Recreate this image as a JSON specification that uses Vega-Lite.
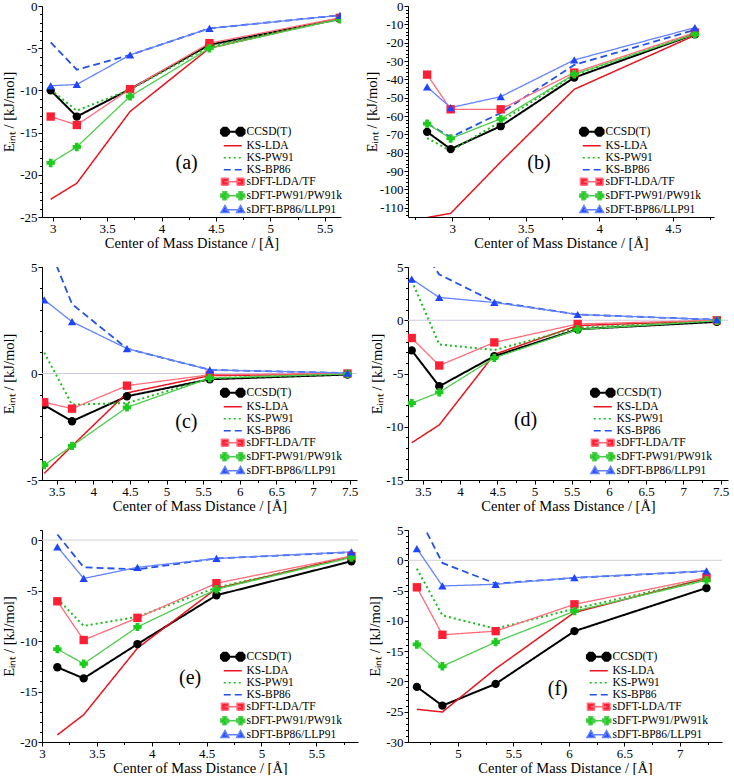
{
  "$schema": "https://vega.github.io/schema/vega-lite/v6.json",
  "padding": {"left": 1, "top": 0, "right": 2, "bottom": 0},
  "background": "white",
  "config": {
    "font": "Liberation Serif",
    "view": {"stroke": null},
    "locale": {"number": {"decimal": ".", "thousands": ",", "grouping": [3], "currency": ["$", ""], "minus": "-"}},
    "axis": {"labelFont": "Liberation Serif", "labelFontSize": 13, "labelColor": "#000", "titleFont": "Liberation Serif", "titleFontSize": 14.5, "titleFontWeight": "normal", "titleColor": "#000", "domainColor": "#000", "tickColor": "#000", "grid": false, "tickSize": 4, "labelPadding": 1, "labelFlush": false, "labelOverlap": false},
    "axisX": {"titlePadding": 1},
    "legend": {"labelFont": "Liberation Serif", "labelFontSize": 11.5, "labelColor": "#000", "symbolSize": 400, "rowPadding": -1, "labelOffset": 8, "padding": 0}
  },
  "datasets": {
    "d": [
      {"panel":"a","method":"CCSD(T)","x":2.98,"y":-10.0},{"panel":"a","method":"CCSD(T)","x":3.22,"y":-13.1},{"panel":"a","method":"CCSD(T)","x":3.71,"y":-9.85},{"panel":"a","method":"CCSD(T)","x":4.44,"y":-4.6},{"panel":"a","method":"CCSD(T)","x":5.64,"y":-1.55},
      {"panel":"a","method":"KS-LDA","x":2.98,"y":-22.9},{"panel":"a","method":"KS-LDA","x":3.22,"y":-21.0},{"panel":"a","method":"KS-LDA","x":3.71,"y":-12.5},{"panel":"a","method":"KS-LDA","x":4.44,"y":-5.0},{"panel":"a","method":"KS-LDA","x":5.64,"y":-1.45},
      {"panel":"a","method":"KS-PW91","x":2.98,"y":-9.9},{"panel":"a","method":"KS-PW91","x":3.22,"y":-12.4},{"panel":"a","method":"KS-PW91","x":3.71,"y":-9.9},{"panel":"a","method":"KS-PW91","x":4.44,"y":-4.8},{"panel":"a","method":"KS-PW91","x":5.64,"y":-1.5},
      {"panel":"a","method":"KS-BP86","x":2.98,"y":-4.3},{"panel":"a","method":"KS-BP86","x":3.22,"y":-7.55},{"panel":"a","method":"KS-BP86","x":3.71,"y":-5.8},{"panel":"a","method":"KS-BP86","x":4.44,"y":-2.65},{"panel":"a","method":"KS-BP86","x":5.64,"y":-1.1},
      {"panel":"a","method":"sDFT-LDA/TF","x":2.98,"y":-13.1},{"panel":"a","method":"sDFT-LDA/TF","x":3.22,"y":-14.1},{"panel":"a","method":"sDFT-LDA/TF","x":3.71,"y":-9.85},{"panel":"a","method":"sDFT-LDA/TF","x":4.44,"y":-4.4},{"panel":"a","method":"sDFT-LDA/TF","x":5.64,"y":-1.4},
      {"panel":"a","method":"sDFT-PW91/PW91k","x":2.98,"y":-18.6},{"panel":"a","method":"sDFT-PW91/PW91k","x":3.22,"y":-16.7},{"panel":"a","method":"sDFT-PW91/PW91k","x":3.71,"y":-10.7},{"panel":"a","method":"sDFT-PW91/PW91k","x":4.44,"y":-5.0},{"panel":"a","method":"sDFT-PW91/PW91k","x":5.64,"y":-1.55},
      {"panel":"a","method":"sDFT-BP86/LLP91","x":2.98,"y":-9.45},{"panel":"a","method":"sDFT-BP86/LLP91","x":3.22,"y":-9.3},{"panel":"a","method":"sDFT-BP86/LLP91","x":3.71,"y":-5.8},{"panel":"a","method":"sDFT-BP86/LLP91","x":4.44,"y":-2.65},{"panel":"a","method":"sDFT-BP86/LLP91","x":5.64,"y":-1.1},

      {"panel":"b","method":"CCSD(T)","x":2.83,"y":-68.6},{"panel":"b","method":"CCSD(T)","x":2.99,"y":-78.0},{"panel":"b","method":"CCSD(T)","x":3.33,"y":-65.5},{"panel":"b","method":"CCSD(T)","x":3.83,"y":-39.0},{"panel":"b","method":"CCSD(T)","x":4.65,"y":-15.4},
      {"panel":"b","method":"KS-LDA","x":2.83,"y":-115.3},{"panel":"b","method":"KS-LDA","x":2.99,"y":-113.0},{"panel":"b","method":"KS-LDA","x":3.33,"y":-85.0},{"panel":"b","method":"KS-LDA","x":3.83,"y":-45.4},{"panel":"b","method":"KS-LDA","x":4.65,"y":-16.0},
      {"panel":"b","method":"KS-PW91","x":2.83,"y":-72.0},{"panel":"b","method":"KS-PW91","x":2.99,"y":-79.0},{"panel":"b","method":"KS-PW91","x":3.33,"y":-63.0},{"panel":"b","method":"KS-PW91","x":3.83,"y":-37.5},{"panel":"b","method":"KS-PW91","x":4.65,"y":-15.0},
      {"panel":"b","method":"KS-BP86","x":2.83,"y":-64.0},{"panel":"b","method":"KS-BP86","x":2.99,"y":-71.5},{"panel":"b","method":"KS-BP86","x":3.33,"y":-58.3},{"panel":"b","method":"KS-BP86","x":3.83,"y":-32.1},{"panel":"b","method":"KS-BP86","x":4.65,"y":-13.0},
      {"panel":"b","method":"sDFT-LDA/TF","x":2.83,"y":-37.4},{"panel":"b","method":"sDFT-LDA/TF","x":2.99,"y":-56.3},{"panel":"b","method":"sDFT-LDA/TF","x":3.33,"y":-56.3},{"panel":"b","method":"sDFT-LDA/TF","x":3.83,"y":-36.3},{"panel":"b","method":"sDFT-LDA/TF","x":4.65,"y":-14.5},
      {"panel":"b","method":"sDFT-PW91/PW91k","x":2.83,"y":-64.1},{"panel":"b","method":"sDFT-PW91/PW91k","x":2.99,"y":-72.2},{"panel":"b","method":"sDFT-PW91/PW91k","x":3.33,"y":-61.5},{"panel":"b","method":"sDFT-PW91/PW91k","x":3.83,"y":-37.2},{"panel":"b","method":"sDFT-PW91/PW91k","x":4.65,"y":-15.4},
      {"panel":"b","method":"sDFT-BP86/LLP91","x":2.83,"y":-44.1},{"panel":"b","method":"sDFT-BP86/LLP91","x":2.99,"y":-55.4},{"panel":"b","method":"sDFT-BP86/LLP91","x":3.33,"y":-49.4},{"panel":"b","method":"sDFT-BP86/LLP91","x":3.83,"y":-29.4},{"panel":"b","method":"sDFT-BP86/LLP91","x":4.65,"y":-11.8},

      {"panel":"c","method":"CCSD(T)","x":3.33,"y":-1.48},{"panel":"c","method":"CCSD(T)","x":3.71,"y":-2.24},{"panel":"c","method":"CCSD(T)","x":4.46,"y":-1.07},{"panel":"c","method":"CCSD(T)","x":5.59,"y":-0.27},{"panel":"c","method":"CCSD(T)","x":7.47,"y":-0.05},
      {"panel":"c","method":"KS-LDA","x":3.33,"y":-4.69},{"panel":"c","method":"KS-LDA","x":3.71,"y":-3.4},{"panel":"c","method":"KS-LDA","x":4.46,"y":-0.91},{"panel":"c","method":"KS-LDA","x":5.59,"y":-0.1},{"panel":"c","method":"KS-LDA","x":7.47,"y":-0.02},
      {"panel":"c","method":"KS-PW91","x":3.33,"y":0.98},{"panel":"c","method":"KS-PW91","x":3.71,"y":-1.46},{"panel":"c","method":"KS-PW91","x":4.46,"y":-1.39},{"panel":"c","method":"KS-PW91","x":5.59,"y":-0.22},{"panel":"c","method":"KS-PW91","x":7.47,"y":-0.02},
      {"panel":"c","method":"KS-BP86","x":3.33,"y":6.5},{"panel":"c","method":"KS-BP86","x":3.71,"y":3.26},{"panel":"c","method":"KS-BP86","x":4.46,"y":1.17},{"panel":"c","method":"KS-BP86","x":5.59,"y":0.17},{"panel":"c","method":"KS-BP86","x":7.47,"y":0.02},
      {"panel":"c","method":"sDFT-LDA/TF","x":3.33,"y":-1.35},{"panel":"c","method":"sDFT-LDA/TF","x":3.71,"y":-1.65},{"panel":"c","method":"sDFT-LDA/TF","x":4.46,"y":-0.57},{"panel":"c","method":"sDFT-LDA/TF","x":5.59,"y":-0.06},{"panel":"c","method":"sDFT-LDA/TF","x":7.47,"y":0.0},
      {"panel":"c","method":"sDFT-PW91/PW91k","x":3.33,"y":-4.3},{"panel":"c","method":"sDFT-PW91/PW91k","x":3.71,"y":-3.4},{"panel":"c","method":"sDFT-PW91/PW91k","x":4.46,"y":-1.59},{"panel":"c","method":"sDFT-PW91/PW91k","x":5.59,"y":-0.22},{"panel":"c","method":"sDFT-PW91/PW91k","x":7.47,"y":-0.02},
      {"panel":"c","method":"sDFT-BP86/LLP91","x":3.33,"y":3.46},{"panel":"c","method":"sDFT-BP86/LLP91","x":3.71,"y":2.43},{"panel":"c","method":"sDFT-BP86/LLP91","x":4.46,"y":1.17},{"panel":"c","method":"sDFT-BP86/LLP91","x":5.59,"y":0.17},{"panel":"c","method":"sDFT-BP86/LLP91","x":7.47,"y":0.02},

      {"panel":"d","method":"CCSD(T)","x":3.35,"y":-2.83},{"panel":"d","method":"CCSD(T)","x":3.72,"y":-6.2},{"panel":"d","method":"CCSD(T)","x":4.46,"y":-3.37},{"panel":"d","method":"CCSD(T)","x":5.58,"y":-0.85},{"panel":"d","method":"CCSD(T)","x":7.45,"y":-0.15},
      {"panel":"d","method":"KS-LDA","x":3.35,"y":-11.5},{"panel":"d","method":"KS-LDA","x":3.72,"y":-9.83},{"panel":"d","method":"KS-LDA","x":4.46,"y":-3.2},{"panel":"d","method":"KS-LDA","x":5.58,"y":-0.5},{"panel":"d","method":"KS-LDA","x":7.45,"y":-0.05},
      {"panel":"d","method":"KS-PW91","x":3.35,"y":3.7},{"panel":"d","method":"KS-PW91","x":3.72,"y":-2.27},{"panel":"d","method":"KS-PW91","x":4.46,"y":-2.8},{"panel":"d","method":"KS-PW91","x":5.58,"y":-0.7},{"panel":"d","method":"KS-PW91","x":7.45,"y":-0.05},
      {"panel":"d","method":"KS-BP86","x":3.35,"y":8.0},{"panel":"d","method":"KS-BP86","x":3.72,"y":4.3},{"panel":"d","method":"KS-BP86","x":4.46,"y":1.73},{"panel":"d","method":"KS-BP86","x":5.58,"y":0.54},{"panel":"d","method":"KS-BP86","x":7.45,"y":0.05},
      {"panel":"d","method":"sDFT-LDA/TF","x":3.35,"y":-1.67},{"panel":"d","method":"sDFT-LDA/TF","x":3.72,"y":-4.25},{"panel":"d","method":"sDFT-LDA/TF","x":4.46,"y":-2.08},{"panel":"d","method":"sDFT-LDA/TF","x":5.58,"y":-0.35},{"panel":"d","method":"sDFT-LDA/TF","x":7.45,"y":0.0},
      {"panel":"d","method":"sDFT-PW91/PW91k","x":3.35,"y":-7.78},{"panel":"d","method":"sDFT-PW91/PW91k","x":3.72,"y":-6.77},{"panel":"d","method":"sDFT-PW91/PW91k","x":4.46,"y":-3.53},{"panel":"d","method":"sDFT-PW91/PW91k","x":5.58,"y":-0.87},{"panel":"d","method":"sDFT-PW91/PW91k","x":7.45,"y":-0.05},
      {"panel":"d","method":"sDFT-BP86/LLP91","x":3.35,"y":3.87},{"panel":"d","method":"sDFT-BP86/LLP91","x":3.72,"y":2.14},{"panel":"d","method":"sDFT-BP86/LLP91","x":4.46,"y":1.67},{"panel":"d","method":"sDFT-BP86/LLP91","x":5.58,"y":0.54},{"panel":"d","method":"sDFT-BP86/LLP91","x":7.45,"y":0.05},

      {"panel":"e","method":"CCSD(T)","x":3.14,"y":-12.6},{"panel":"e","method":"CCSD(T)","x":3.38,"y":-13.7},{"panel":"e","method":"CCSD(T)","x":3.87,"y":-10.3},{"panel":"e","method":"CCSD(T)","x":4.59,"y":-5.46},{"panel":"e","method":"CCSD(T)","x":5.82,"y":-2.09},
      {"panel":"e","method":"KS-LDA","x":3.14,"y":-19.3},{"panel":"e","method":"KS-LDA","x":3.38,"y":-17.3},{"panel":"e","method":"KS-LDA","x":3.87,"y":-10.7},{"panel":"e","method":"KS-LDA","x":4.59,"y":-4.8},{"panel":"e","method":"KS-LDA","x":5.82,"y":-1.6},
      {"panel":"e","method":"KS-PW91","x":3.14,"y":-5.8},{"panel":"e","method":"KS-PW91","x":3.38,"y":-8.5},{"panel":"e","method":"KS-PW91","x":3.87,"y":-7.6},{"panel":"e","method":"KS-PW91","x":4.59,"y":-4.7},{"panel":"e","method":"KS-PW91","x":5.82,"y":-1.7},
      {"panel":"e","method":"KS-BP86","x":3.14,"y":0.56},{"panel":"e","method":"KS-BP86","x":3.38,"y":-2.7},{"panel":"e","method":"KS-BP86","x":3.87,"y":-2.9},{"panel":"e","method":"KS-BP86","x":4.59,"y":-1.82},{"panel":"e","method":"KS-BP86","x":5.82,"y":-1.2},
      {"panel":"e","method":"sDFT-LDA/TF","x":3.14,"y":-6.06},{"panel":"e","method":"sDFT-LDA/TF","x":3.38,"y":-9.9},{"panel":"e","method":"sDFT-LDA/TF","x":3.87,"y":-7.7},{"panel":"e","method":"sDFT-LDA/TF","x":4.59,"y":-4.27},{"panel":"e","method":"sDFT-LDA/TF","x":5.82,"y":-1.59},
      {"panel":"e","method":"sDFT-PW91/PW91k","x":3.14,"y":-10.8},{"panel":"e","method":"sDFT-PW91/PW91k","x":3.38,"y":-12.25},{"panel":"e","method":"sDFT-PW91/PW91k","x":3.87,"y":-8.6},{"panel":"e","method":"sDFT-PW91/PW91k","x":4.59,"y":-4.87},{"panel":"e","method":"sDFT-PW91/PW91k","x":5.82,"y":-1.72},
      {"panel":"e","method":"sDFT-BP86/LLP91","x":3.14,"y":-0.66},{"panel":"e","method":"sDFT-BP86/LLP91","x":3.38,"y":-3.8},{"panel":"e","method":"sDFT-BP86/LLP91","x":3.87,"y":-2.7},{"panel":"e","method":"sDFT-BP86/LLP91","x":4.59,"y":-1.82},{"panel":"e","method":"sDFT-BP86/LLP91","x":5.82,"y":-1.16},

      {"panel":"f","method":"CCSD(T)","x":4.63,"y":-20.9},{"panel":"f","method":"CCSD(T)","x":4.86,"y":-24.0},{"panel":"f","method":"CCSD(T)","x":5.34,"y":-20.4},{"panel":"f","method":"CCSD(T)","x":6.05,"y":-11.7},{"panel":"f","method":"CCSD(T)","x":7.24,"y":-4.57},
      {"panel":"f","method":"KS-LDA","x":4.63,"y":-24.6},{"panel":"f","method":"KS-LDA","x":4.86,"y":-25.05},{"panel":"f","method":"KS-LDA","x":5.34,"y":-17.9},{"panel":"f","method":"KS-LDA","x":6.05,"y":-8.6},{"panel":"f","method":"KS-LDA","x":7.24,"y":-3.0},
      {"panel":"f","method":"KS-PW91","x":4.63,"y":-1.38},{"panel":"f","method":"KS-PW91","x":4.86,"y":-9.1},{"panel":"f","method":"KS-PW91","x":5.34,"y":-11.3},{"panel":"f","method":"KS-PW91","x":6.05,"y":-8.0},{"panel":"f","method":"KS-PW91","x":7.24,"y":-3.1},
      {"panel":"f","method":"KS-BP86","x":4.63,"y":7.8},{"panel":"f","method":"KS-BP86","x":4.86,"y":-0.44},{"panel":"f","method":"KS-BP86","x":5.34,"y":-3.85},{"panel":"f","method":"KS-BP86","x":6.05,"y":-2.9},{"panel":"f","method":"KS-BP86","x":7.24,"y":-1.8},
      {"panel":"f","method":"sDFT-LDA/TF","x":4.63,"y":-4.46},{"panel":"f","method":"sDFT-LDA/TF","x":4.86,"y":-12.3},{"panel":"f","method":"sDFT-LDA/TF","x":5.34,"y":-11.7},{"panel":"f","method":"sDFT-LDA/TF","x":6.05,"y":-7.27},{"panel":"f","method":"sDFT-LDA/TF","x":7.24,"y":-2.86},
      {"panel":"f","method":"sDFT-PW91/PW91k","x":4.63,"y":-13.9},{"panel":"f","method":"sDFT-PW91/PW91k","x":4.86,"y":-17.5},{"panel":"f","method":"sDFT-PW91/PW91k","x":5.34,"y":-13.5},{"panel":"f","method":"sDFT-PW91/PW91k","x":6.05,"y":-8.4},{"panel":"f","method":"sDFT-PW91/PW91k","x":7.24,"y":-3.3},
      {"panel":"f","method":"sDFT-BP86/LLP91","x":4.63,"y":1.93},{"panel":"f","method":"sDFT-BP86/LLP91","x":4.86,"y":-4.24},{"panel":"f","method":"sDFT-BP86/LLP91","x":5.34,"y":-3.96},{"panel":"f","method":"sDFT-BP86/LLP91","x":6.05,"y":-2.86},{"panel":"f","method":"sDFT-BP86/LLP91","x":7.24,"y":-1.76}
    ]
  },
  "columns": 2,
  "spacing": {"row": 50, "column": 50},
  "bounds": "flush",
  "align": "none",
  "resolve": {"scale": {"stroke": "independent"}, "legend": {"stroke": "independent"}},
  "concat": [
    {
      "width": 299, "height": 211,
      "data": {"name": "d"},
      "transform": [{"filter": "datum.panel === 'a'"}],
      "resolve": {"axis": {"x": "independent", "y": "independent"}},
      "layer": [
        {
          "mark": {"type": "line", "clip": true},
          "encoding": {
            "x": {"field": "x", "type": "quantitative", "scale": {"domain": [2.9, 5.65], "nice": false, "zero": false}, "axis": {"orient": "bottom", "values": [3, 3.5, 4, 4.5, 5, 5.5], "format": ".1~f", "title": "Center of Mass Distance / [Å]"}},
            "y": {"field": "y", "type": "quantitative", "scale": {"domain": [-25, 0], "nice": false, "zero": false}, "axis": {"orient": "left", "values": [-25, -20, -15, -10, -5, 0], "format": "d", "title": "Eᵢₙₜ / [kJ/mol]", "titleX": -26}},
            "stroke": {"field": "method", "type": "nominal", "scale": {"domain": ["CCSD(T)", "KS-LDA", "KS-PW91", "KS-BP86", "sDFT-LDA/TF", "sDFT-PW91/PW91k", "sDFT-BP86/LLP91"], "range": ["#000000", "#e8141e", "#1fba1f", "#2352e6", "#ff6b7a", "#4ccd4c", "#6383ff"]},
              "legend": {"orient": "none", "legendX": 185, "legendY": 120, "title": null, "rowPadding": -1,
                "encode": {"symbols": {"update": {
                  "shape": {"signal": "datum.value === 'CCSD(T)' ? 'M-0.8,0H0.8M-0.94,-0.4L-0.62,-0.4L-0.38,-0.16L-0.38,0.16L-0.62,0.4L-0.94,0.4L-1.18,0.16L-1.18,-0.16ZM0.62,-0.4L0.94,-0.4L1.18,-0.16L1.18,0.16L0.94,0.4L0.62,0.4L0.38,0.16L0.38,-0.16Z' : datum.value === 'sDFT-LDA/TF' ? 'M-0.8,0H0.8M-1.13,-0.35h0.7v0.7h-0.7ZM0.43,-0.35h0.7v0.7h-0.7Z' : datum.value === 'sDFT-PW91/PW91k' ? 'M-0.8,0H0.8M-0.98,-0.4h0.36v0.22h0.22v0.36h-0.22v0.22h-0.36v-0.22h-0.22v-0.36h0.22ZM0.62,-0.4h0.36v0.22h0.22v0.36h-0.22v0.22h-0.36v-0.22h-0.22v-0.36h0.22Z' : datum.value === 'sDFT-BP86/LLP91' ? 'M-0.8,0H0.8M-0.78,-0.42L-0.38,0.28H-1.18ZM0.78,-0.42L1.18,0.28H0.38Z' : 'M-0.9,0H0.9'"},
                  "fill": {"signal": "datum.value === 'CCSD(T)' ? '#000000' : datum.value === 'sDFT-LDA/TF' ? '#ff1f35' : datum.value === 'sDFT-PW91/PW91k' ? '#1ccc1c' : datum.value === 'sDFT-BP86/LLP91' ? '#1f45ff' : 'transparent'"},
                  "strokeDash": {"signal": "datum.value === 'KS-PW91' ? [2,3] : datum.value === 'KS-BP86' ? [7,4] : [1,0]"},
                  "strokeWidth": {"signal": "datum.value === 'CCSD(T)' ? 2 : 1.5"}
                }}}}},
            "strokeDash": {"field": "method", "type": "nominal", "scale": {"domain": ["CCSD(T)", "KS-LDA", "KS-PW91", "KS-BP86", "sDFT-LDA/TF", "sDFT-PW91/PW91k", "sDFT-BP86/LLP91"], "range": [[1, 0], [1, 0], [2, 3], [7, 4], [1, 0], [1, 0], [1, 0]]}, "legend": null},
            "strokeWidth": {"field": "method", "type": "nominal", "scale": {"type": "ordinal", "domain": ["CCSD(T)", "KS-LDA", "KS-PW91", "KS-BP86", "sDFT-LDA/TF", "sDFT-PW91/PW91k", "sDFT-BP86/LLP91"], "range": [2, 1.5, 2, 1.8, 1.3, 1.3, 1.3]}, "legend": null}
          }
        },
        {
          "transform": [{"filter": {"field": "method", "oneOf": ["CCSD(T)", "sDFT-LDA/TF", "sDFT-PW91/PW91k", "sDFT-BP86/LLP91"]}}],
          "mark": {"type": "point", "filled": true, "opacity": 1, "size": 70, "strokeWidth": 0, "clip": true},
          "encoding": {
            "x": {"field": "x", "type": "quantitative", "axis": null},
            "y": {"field": "y", "type": "quantitative", "axis": null},
            "shape": {"field": "method", "type": "nominal", "scale": {"domain": ["CCSD(T)", "sDFT-LDA/TF", "sDFT-PW91/PW91k", "sDFT-BP86/LLP91"], "range": ["circle", "square", "M-0.45,-1h0.9v0.55h0.55v0.9h-0.55v0.55h-0.9v-0.55h-0.55v-0.9h0.55Z", "triangle-up"]}, "legend": null},
            "fill": {"field": "method", "type": "nominal", "scale": {"domain": ["CCSD(T)", "sDFT-LDA/TF", "sDFT-PW91/PW91k", "sDFT-BP86/LLP91"], "range": ["#000000", "#ff1f35", "#1ccc1c", "#1f45ff"]}, "legend": null}
          }
        },
        {
          "data": {"values": [{"label": "(a)"}]},
          "mark": {"type": "text", "font": "Liberation Serif", "fontSize": 20, "color": "#000"},
          "encoding": {
            "text": {"field": "label"},
            "x": {"datum": 4.23, "type": "quantitative", "axis": {"orient": "bottom", "labels": false, "domain": false, "title": null, "tickSize": 2.5, "values": [3.25, 3.75, 4.25, 4.75, 5.25]}},
            "y": {"datum": -18.6, "type": "quantitative", "axis": {"orient": "left", "labels": false, "domain": false, "title": null, "tickSize": 2.5, "values": [-25,-24,-23,-22,-21,-20,-19,-18,-17,-16,-15,-14,-13,-12,-11,-10,-9,-8,-7,-6,-5,-4,-3,-2,-1,0]}}
          }
        }
      ]
    },
    {
      "width": 306, "height": 211,
      "data": {"name": "d"},
      "transform": [{"filter": "datum.panel === 'b'"}],
      "resolve": {"axis": {"x": "independent", "y": "independent"}},
      "layer": [
        {
          "mark": {"type": "line", "clip": true},
          "encoding": {
            "x": {"field": "x", "type": "quantitative", "scale": {"domain": [2.7, 4.78], "nice": false, "zero": false}, "axis": {"orient": "bottom", "values": [3, 3.5, 4, 4.5], "format": ".1~f", "title": "Center of Mass Distance / [Å]"}},
            "y": {"field": "y", "type": "quantitative", "scale": {"domain": [-115, 0], "nice": false, "zero": false}, "axis": {"orient": "left", "values": [-110, -100, -90, -80, -70, -60, -50, -40, -30, -20, -10, 0], "format": "d", "title": "Eᵢₙₜ / [kJ/mol]", "titleX": -29}},
            "stroke": {"field": "method", "type": "nominal", "scale": {"domain": ["CCSD(T)", "KS-LDA", "KS-PW91", "KS-BP86", "sDFT-LDA/TF", "sDFT-PW91/PW91k", "sDFT-BP86/LLP91"], "range": ["#000000", "#e8141e", "#1fba1f", "#2352e6", "#ff6b7a", "#4ccd4c", "#6383ff"]},
              "legend": {"orient": "none", "legendX": 178, "legendY": 120, "title": null, "rowPadding": -1,
                "encode": {"symbols": {"update": {
                  "shape": {"signal": "datum.value === 'CCSD(T)' ? 'M-0.8,0H0.8M-0.94,-0.4L-0.62,-0.4L-0.38,-0.16L-0.38,0.16L-0.62,0.4L-0.94,0.4L-1.18,0.16L-1.18,-0.16ZM0.62,-0.4L0.94,-0.4L1.18,-0.16L1.18,0.16L0.94,0.4L0.62,0.4L0.38,0.16L0.38,-0.16Z' : datum.value === 'sDFT-LDA/TF' ? 'M-0.8,0H0.8M-1.13,-0.35h0.7v0.7h-0.7ZM0.43,-0.35h0.7v0.7h-0.7Z' : datum.value === 'sDFT-PW91/PW91k' ? 'M-0.8,0H0.8M-0.98,-0.4h0.36v0.22h0.22v0.36h-0.22v0.22h-0.36v-0.22h-0.22v-0.36h0.22ZM0.62,-0.4h0.36v0.22h0.22v0.36h-0.22v0.22h-0.36v-0.22h-0.22v-0.36h0.22Z' : datum.value === 'sDFT-BP86/LLP91' ? 'M-0.8,0H0.8M-0.78,-0.42L-0.38,0.28H-1.18ZM0.78,-0.42L1.18,0.28H0.38Z' : 'M-0.9,0H0.9'"},
                  "fill": {"signal": "datum.value === 'CCSD(T)' ? '#000000' : datum.value === 'sDFT-LDA/TF' ? '#ff1f35' : datum.value === 'sDFT-PW91/PW91k' ? '#1ccc1c' : datum.value === 'sDFT-BP86/LLP91' ? '#1f45ff' : 'transparent'"},
                  "strokeDash": {"signal": "datum.value === 'KS-PW91' ? [2,3] : datum.value === 'KS-BP86' ? [7,4] : [1,0]"},
                  "strokeWidth": {"signal": "datum.value === 'CCSD(T)' ? 2 : 1.5"}
                }}}}},
            "strokeDash": {"field": "method", "type": "nominal", "scale": {"domain": ["CCSD(T)", "KS-LDA", "KS-PW91", "KS-BP86", "sDFT-LDA/TF", "sDFT-PW91/PW91k", "sDFT-BP86/LLP91"], "range": [[1, 0], [1, 0], [2, 3], [7, 4], [1, 0], [1, 0], [1, 0]]}, "legend": null},
            "strokeWidth": {"field": "method", "type": "nominal", "scale": {"type": "ordinal", "domain": ["CCSD(T)", "KS-LDA", "KS-PW91", "KS-BP86", "sDFT-LDA/TF", "sDFT-PW91/PW91k", "sDFT-BP86/LLP91"], "range": [2, 1.5, 2, 1.8, 1.3, 1.3, 1.3]}, "legend": null}
          }
        },
        {
          "transform": [{"filter": {"field": "method", "oneOf": ["CCSD(T)", "sDFT-LDA/TF", "sDFT-PW91/PW91k", "sDFT-BP86/LLP91"]}}],
          "mark": {"type": "point", "filled": true, "opacity": 1, "size": 70, "strokeWidth": 0, "clip": true},
          "encoding": {
            "x": {"field": "x", "type": "quantitative", "axis": null},
            "y": {"field": "y", "type": "quantitative", "axis": null},
            "shape": {"field": "method", "type": "nominal", "scale": {"domain": ["CCSD(T)", "sDFT-LDA/TF", "sDFT-PW91/PW91k", "sDFT-BP86/LLP91"], "range": ["circle", "square", "M-0.45,-1h0.9v0.55h0.55v0.9h-0.55v0.55h-0.9v-0.55h-0.55v-0.9h0.55Z", "triangle-up"]}, "legend": null},
            "fill": {"field": "method", "type": "nominal", "scale": {"domain": ["CCSD(T)", "sDFT-LDA/TF", "sDFT-PW91/PW91k", "sDFT-BP86/LLP91"], "range": ["#000000", "#ff1f35", "#1ccc1c", "#1f45ff"]}, "legend": null}
          }
        },
        {
          "data": {"values": [{"label": "(b)"}]},
          "mark": {"type": "text", "font": "Liberation Serif", "fontSize": 20, "color": "#000"},
          "encoding": {
            "text": {"field": "label"},
            "x": {"datum": 3.59, "type": "quantitative", "axis": {"orient": "bottom", "labels": false, "domain": false, "title": null, "tickSize": 2.5, "values": [2.75, 3.25, 3.75, 4.25, 4.75]}},
            "y": {"datum": -85.7, "type": "quantitative", "axis": {"orient": "left", "labels": false, "domain": false, "title": null, "tickSize": 2.5, "values": [-114,-112,-110,-108,-106,-104,-102,-100,-98,-96,-94,-92,-90,-88,-86,-84,-82,-80,-78,-76,-74,-72,-70,-68,-66,-64,-62,-60,-58,-56,-54,-52,-50,-48,-46,-44,-42,-40,-38,-36,-34,-32,-30,-28,-26,-24,-22,-20,-18,-16,-14,-12,-10,-8,-6,-4,-2,0]}}
          }
        }
      ]
    },
    {
      "width": 315, "height": 213,
      "data": {"name": "d"},
      "transform": [{"filter": "datum.panel === 'c'"}],
      "resolve": {"axis": {"x": "independent", "y": "independent"}},
      "layer": [
        {
          "data": {"values": [{}]},
          "mark": {"type": "rule", "color": "#c9cbe3", "strokeWidth": 1},
          "encoding": {"y": {"datum": 0, "type": "quantitative", "axis": null}}
        },
        {
          "mark": {"type": "line", "clip": true},
          "encoding": {
            "x": {"field": "x", "type": "quantitative", "scale": {"domain": [3.3, 7.6], "nice": false, "zero": false}, "axis": {"orient": "bottom", "values": [3.5, 4, 4.5, 5, 5.5, 6, 6.5, 7, 7.5], "format": ".1~f", "title": "Center of Mass Distance / [Å]"}},
            "y": {"field": "y", "type": "quantitative", "scale": {"domain": [-5, 5], "nice": false, "zero": false}, "axis": {"orient": "left", "values": [-5, 0, 5], "format": "d", "title": "Eᵢₙₜ / [kJ/mol]", "titleX": -26}},
            "stroke": {"field": "method", "type": "nominal", "scale": {"domain": ["CCSD(T)", "KS-LDA", "KS-PW91", "KS-BP86", "sDFT-LDA/TF", "sDFT-PW91/PW91k", "sDFT-BP86/LLP91"], "range": ["#000000", "#e8141e", "#1fba1f", "#2352e6", "#ff6b7a", "#4ccd4c", "#6383ff"]},
              "legend": {"orient": "none", "legendX": 185, "legendY": 120, "title": null, "rowPadding": -1,
                "encode": {"symbols": {"update": {
                  "shape": {"signal": "datum.value === 'CCSD(T)' ? 'M-0.8,0H0.8M-0.94,-0.4L-0.62,-0.4L-0.38,-0.16L-0.38,0.16L-0.62,0.4L-0.94,0.4L-1.18,0.16L-1.18,-0.16ZM0.62,-0.4L0.94,-0.4L1.18,-0.16L1.18,0.16L0.94,0.4L0.62,0.4L0.38,0.16L0.38,-0.16Z' : datum.value === 'sDFT-LDA/TF' ? 'M-0.8,0H0.8M-1.13,-0.35h0.7v0.7h-0.7ZM0.43,-0.35h0.7v0.7h-0.7Z' : datum.value === 'sDFT-PW91/PW91k' ? 'M-0.8,0H0.8M-0.98,-0.4h0.36v0.22h0.22v0.36h-0.22v0.22h-0.36v-0.22h-0.22v-0.36h0.22ZM0.62,-0.4h0.36v0.22h0.22v0.36h-0.22v0.22h-0.36v-0.22h-0.22v-0.36h0.22Z' : datum.value === 'sDFT-BP86/LLP91' ? 'M-0.8,0H0.8M-0.78,-0.42L-0.38,0.28H-1.18ZM0.78,-0.42L1.18,0.28H0.38Z' : 'M-0.9,0H0.9'"},
                  "fill": {"signal": "datum.value === 'CCSD(T)' ? '#000000' : datum.value === 'sDFT-LDA/TF' ? '#ff1f35' : datum.value === 'sDFT-PW91/PW91k' ? '#1ccc1c' : datum.value === 'sDFT-BP86/LLP91' ? '#1f45ff' : 'transparent'"},
                  "strokeDash": {"signal": "datum.value === 'KS-PW91' ? [2,3] : datum.value === 'KS-BP86' ? [7,4] : [1,0]"},
                  "strokeWidth": {"signal": "datum.value === 'CCSD(T)' ? 2 : 1.5"}
                }}}}},
            "strokeDash": {"field": "method", "type": "nominal", "scale": {"domain": ["CCSD(T)", "KS-LDA", "KS-PW91", "KS-BP86", "sDFT-LDA/TF", "sDFT-PW91/PW91k", "sDFT-BP86/LLP91"], "range": [[1, 0], [1, 0], [2, 3], [7, 4], [1, 0], [1, 0], [1, 0]]}, "legend": null},
            "strokeWidth": {"field": "method", "type": "nominal", "scale": {"type": "ordinal", "domain": ["CCSD(T)", "KS-LDA", "KS-PW91", "KS-BP86", "sDFT-LDA/TF", "sDFT-PW91/PW91k", "sDFT-BP86/LLP91"], "range": [2, 1.5, 2, 1.8, 1.3, 1.3, 1.3]}, "legend": null}
          }
        },
        {
          "transform": [{"filter": {"field": "method", "oneOf": ["CCSD(T)", "sDFT-LDA/TF", "sDFT-PW91/PW91k", "sDFT-BP86/LLP91"]}}],
          "mark": {"type": "point", "filled": true, "opacity": 1, "size": 70, "strokeWidth": 0, "clip": true},
          "encoding": {
            "x": {"field": "x", "type": "quantitative", "axis": null},
            "y": {"field": "y", "type": "quantitative", "axis": null},
            "shape": {"field": "method", "type": "nominal", "scale": {"domain": ["CCSD(T)", "sDFT-LDA/TF", "sDFT-PW91/PW91k", "sDFT-BP86/LLP91"], "range": ["circle", "square", "M-0.45,-1h0.9v0.55h0.55v0.9h-0.55v0.55h-0.9v-0.55h-0.55v-0.9h0.55Z", "triangle-up"]}, "legend": null},
            "fill": {"field": "method", "type": "nominal", "scale": {"domain": ["CCSD(T)", "sDFT-LDA/TF", "sDFT-PW91/PW91k", "sDFT-BP86/LLP91"], "range": ["#000000", "#ff1f35", "#1ccc1c", "#1f45ff"]}, "legend": null}
          }
        },
        {
          "data": {"values": [{"label": "(c)"}]},
          "mark": {"type": "text", "font": "Liberation Serif", "fontSize": 20, "color": "#000"},
          "encoding": {
            "text": {"field": "label"},
            "x": {"datum": 5.27, "type": "quantitative", "axis": {"orient": "bottom", "labels": false, "domain": false, "title": null, "tickSize": 2.5, "values": [3.75, 4.25, 4.75, 5.25, 5.75, 6.25, 6.75, 7.25]}},
            "y": {"datum": -2.26, "type": "quantitative", "axis": {"orient": "left", "labels": false, "domain": false, "title": null, "tickSize": 2.5, "values": [-5,-4,-3,-2,-1,0,1,2,3,4,5]}}
          }
        }
      ]
    },
    {
      "width": 320, "height": 213,
      "data": {"name": "d"},
      "transform": [{"filter": "datum.panel === 'd'"}],
      "resolve": {"axis": {"x": "independent", "y": "independent"}},
      "layer": [
        {
          "data": {"values": [{}]},
          "mark": {"type": "rule", "color": "#c9cbe3", "strokeWidth": 1},
          "encoding": {"y": {"datum": 0, "type": "quantitative", "axis": null}}
        },
        {
          "mark": {"type": "line", "clip": true},
          "encoding": {
            "x": {"field": "x", "type": "quantitative", "scale": {"domain": [3.3, 7.6], "nice": false, "zero": false}, "axis": {"orient": "bottom", "values": [3.5, 4, 4.5, 5, 5.5, 6, 6.5, 7, 7.5], "format": ".1~f", "title": "Center of Mass Distance / [Å]"}},
            "y": {"field": "y", "type": "quantitative", "scale": {"domain": [-15, 5], "nice": false, "zero": false}, "axis": {"orient": "left", "values": [-15, -10, -5, 0, 5], "format": "d", "title": "Eᵢₙₜ / [kJ/mol]", "titleX": -24}},
            "stroke": {"field": "method", "type": "nominal", "scale": {"domain": ["CCSD(T)", "KS-LDA", "KS-PW91", "KS-BP86", "sDFT-LDA/TF", "sDFT-PW91/PW91k", "sDFT-BP86/LLP91"], "range": ["#000000", "#e8141e", "#1fba1f", "#2352e6", "#ff6b7a", "#4ccd4c", "#6383ff"]},
              "legend": {"orient": "none", "legendX": 189, "legendY": 120, "title": null, "rowPadding": -1,
                "encode": {"symbols": {"update": {
                  "shape": {"signal": "datum.value === 'CCSD(T)' ? 'M-0.8,0H0.8M-0.94,-0.4L-0.62,-0.4L-0.38,-0.16L-0.38,0.16L-0.62,0.4L-0.94,0.4L-1.18,0.16L-1.18,-0.16ZM0.62,-0.4L0.94,-0.4L1.18,-0.16L1.18,0.16L0.94,0.4L0.62,0.4L0.38,0.16L0.38,-0.16Z' : datum.value === 'sDFT-LDA/TF' ? 'M-0.8,0H0.8M-1.13,-0.35h0.7v0.7h-0.7ZM0.43,-0.35h0.7v0.7h-0.7Z' : datum.value === 'sDFT-PW91/PW91k' ? 'M-0.8,0H0.8M-0.98,-0.4h0.36v0.22h0.22v0.36h-0.22v0.22h-0.36v-0.22h-0.22v-0.36h0.22ZM0.62,-0.4h0.36v0.22h0.22v0.36h-0.22v0.22h-0.36v-0.22h-0.22v-0.36h0.22Z' : datum.value === 'sDFT-BP86/LLP91' ? 'M-0.8,0H0.8M-0.78,-0.42L-0.38,0.28H-1.18ZM0.78,-0.42L1.18,0.28H0.38Z' : 'M-0.9,0H0.9'"},
                  "fill": {"signal": "datum.value === 'CCSD(T)' ? '#000000' : datum.value === 'sDFT-LDA/TF' ? '#ff1f35' : datum.value === 'sDFT-PW91/PW91k' ? '#1ccc1c' : datum.value === 'sDFT-BP86/LLP91' ? '#1f45ff' : 'transparent'"},
                  "strokeDash": {"signal": "datum.value === 'KS-PW91' ? [2,3] : datum.value === 'KS-BP86' ? [7,4] : [1,0]"},
                  "strokeWidth": {"signal": "datum.value === 'CCSD(T)' ? 2 : 1.5"}
                }}}}},
            "strokeDash": {"field": "method", "type": "nominal", "scale": {"domain": ["CCSD(T)", "KS-LDA", "KS-PW91", "KS-BP86", "sDFT-LDA/TF", "sDFT-PW91/PW91k", "sDFT-BP86/LLP91"], "range": [[1, 0], [1, 0], [2, 3], [7, 4], [1, 0], [1, 0], [1, 0]]}, "legend": null},
            "strokeWidth": {"field": "method", "type": "nominal", "scale": {"type": "ordinal", "domain": ["CCSD(T)", "KS-LDA", "KS-PW91", "KS-BP86", "sDFT-LDA/TF", "sDFT-PW91/PW91k", "sDFT-BP86/LLP91"], "range": [2, 1.5, 2, 1.8, 1.3, 1.3, 1.3]}, "legend": null}
          }
        },
        {
          "transform": [{"filter": {"field": "method", "oneOf": ["CCSD(T)", "sDFT-LDA/TF", "sDFT-PW91/PW91k", "sDFT-BP86/LLP91"]}}],
          "mark": {"type": "point", "filled": true, "opacity": 1, "size": 70, "strokeWidth": 0, "clip": true},
          "encoding": {
            "x": {"field": "x", "type": "quantitative", "axis": null},
            "y": {"field": "y", "type": "quantitative", "axis": null},
            "shape": {"field": "method", "type": "nominal", "scale": {"domain": ["CCSD(T)", "sDFT-LDA/TF", "sDFT-PW91/PW91k", "sDFT-BP86/LLP91"], "range": ["circle", "square", "M-0.45,-1h0.9v0.55h0.55v0.9h-0.55v0.55h-0.9v-0.55h-0.55v-0.9h0.55Z", "triangle-up"]}, "legend": null},
            "fill": {"field": "method", "type": "nominal", "scale": {"domain": ["CCSD(T)", "sDFT-LDA/TF", "sDFT-PW91/PW91k", "sDFT-BP86/LLP91"], "range": ["#000000", "#ff1f35", "#1ccc1c", "#1f45ff"]}, "legend": null}
          }
        },
        {
          "data": {"values": [{"label": "(d)"}]},
          "mark": {"type": "text", "font": "Liberation Serif", "fontSize": 20, "color": "#000"},
          "encoding": {
            "text": {"field": "label"},
            "x": {"datum": 4.88, "type": "quantitative", "axis": {"orient": "bottom", "labels": false, "domain": false, "title": null, "tickSize": 2.5, "values": [3.75, 4.25, 4.75, 5.25, 5.75, 6.25, 6.75, 7.25]}},
            "y": {"datum": -9.4, "type": "quantitative", "axis": {"orient": "left", "labels": false, "domain": false, "title": null, "tickSize": 2.5, "values": [-15,-14,-13,-12,-11,-10,-9,-8,-7,-6,-5,-4,-3,-2,-1,0,1,2,3,4,5]}}
          }
        }
      ]
    },
    {
      "width": 316, "height": 212,
      "data": {"name": "d"},
      "transform": [{"filter": "datum.panel === 'e'"}],
      "resolve": {"axis": {"x": "independent", "y": "independent"}},
      "layer": [
        {
          "data": {"values": [{}]},
          "mark": {"type": "rule", "color": "#d2d2d2", "strokeWidth": 1},
          "encoding": {"y": {"datum": 0, "type": "quantitative", "axis": null}}
        },
        {
          "mark": {"type": "line", "clip": true},
          "encoding": {
            "x": {"field": "x", "type": "quantitative", "scale": {"domain": [3.0, 5.88], "nice": false, "zero": false}, "axis": {"orient": "bottom", "values": [3, 3.5, 4, 4.5, 5, 5.5], "format": ".1~f", "title": "Center of Mass Distance / [Å]"}},
            "y": {"field": "y", "type": "quantitative", "scale": {"domain": [-20, 1], "nice": false, "zero": false}, "axis": {"orient": "left", "values": [-20, -15, -10, -5, 0], "format": "d", "title": "Eᵢₙₜ / [kJ/mol]", "titleX": -26}},
            "stroke": {"field": "method", "type": "nominal", "scale": {"domain": ["CCSD(T)", "KS-LDA", "KS-PW91", "KS-BP86", "sDFT-LDA/TF", "sDFT-PW91/PW91k", "sDFT-BP86/LLP91"], "range": ["#000000", "#e8141e", "#1fba1f", "#2352e6", "#ff6b7a", "#4ccd4c", "#6383ff"]},
              "legend": {"orient": "none", "legendX": 185, "legendY": 121, "title": null, "rowPadding": -1,
                "encode": {"symbols": {"update": {
                  "shape": {"signal": "datum.value === 'CCSD(T)' ? 'M-0.8,0H0.8M-0.94,-0.4L-0.62,-0.4L-0.38,-0.16L-0.38,0.16L-0.62,0.4L-0.94,0.4L-1.18,0.16L-1.18,-0.16ZM0.62,-0.4L0.94,-0.4L1.18,-0.16L1.18,0.16L0.94,0.4L0.62,0.4L0.38,0.16L0.38,-0.16Z' : datum.value === 'sDFT-LDA/TF' ? 'M-0.8,0H0.8M-1.13,-0.35h0.7v0.7h-0.7ZM0.43,-0.35h0.7v0.7h-0.7Z' : datum.value === 'sDFT-PW91/PW91k' ? 'M-0.8,0H0.8M-0.98,-0.4h0.36v0.22h0.22v0.36h-0.22v0.22h-0.36v-0.22h-0.22v-0.36h0.22ZM0.62,-0.4h0.36v0.22h0.22v0.36h-0.22v0.22h-0.36v-0.22h-0.22v-0.36h0.22Z' : datum.value === 'sDFT-BP86/LLP91' ? 'M-0.8,0H0.8M-0.78,-0.42L-0.38,0.28H-1.18ZM0.78,-0.42L1.18,0.28H0.38Z' : 'M-0.9,0H0.9'"},
                  "fill": {"signal": "datum.value === 'CCSD(T)' ? '#000000' : datum.value === 'sDFT-LDA/TF' ? '#ff1f35' : datum.value === 'sDFT-PW91/PW91k' ? '#1ccc1c' : datum.value === 'sDFT-BP86/LLP91' ? '#1f45ff' : 'transparent'"},
                  "strokeDash": {"signal": "datum.value === 'KS-PW91' ? [2,3] : datum.value === 'KS-BP86' ? [7,4] : [1,0]"},
                  "strokeWidth": {"signal": "datum.value === 'CCSD(T)' ? 2 : 1.5"}
                }}}}},
            "strokeDash": {"field": "method", "type": "nominal", "scale": {"domain": ["CCSD(T)", "KS-LDA", "KS-PW91", "KS-BP86", "sDFT-LDA/TF", "sDFT-PW91/PW91k", "sDFT-BP86/LLP91"], "range": [[1, 0], [1, 0], [2, 3], [7, 4], [1, 0], [1, 0], [1, 0]]}, "legend": null},
            "strokeWidth": {"field": "method", "type": "nominal", "scale": {"type": "ordinal", "domain": ["CCSD(T)", "KS-LDA", "KS-PW91", "KS-BP86", "sDFT-LDA/TF", "sDFT-PW91/PW91k", "sDFT-BP86/LLP91"], "range": [2, 1.5, 2, 1.8, 1.3, 1.3, 1.3]}, "legend": null}
          }
        },
        {
          "transform": [{"filter": {"field": "method", "oneOf": ["CCSD(T)", "sDFT-LDA/TF", "sDFT-PW91/PW91k", "sDFT-BP86/LLP91"]}}],
          "mark": {"type": "point", "filled": true, "opacity": 1, "size": 70, "strokeWidth": 0, "clip": true},
          "encoding": {
            "x": {"field": "x", "type": "quantitative", "axis": null},
            "y": {"field": "y", "type": "quantitative", "axis": null},
            "shape": {"field": "method", "type": "nominal", "scale": {"domain": ["CCSD(T)", "sDFT-LDA/TF", "sDFT-PW91/PW91k", "sDFT-BP86/LLP91"], "range": ["circle", "square", "M-0.45,-1h0.9v0.55h0.55v0.9h-0.55v0.55h-0.9v-0.55h-0.55v-0.9h0.55Z", "triangle-up"]}, "legend": null},
            "fill": {"field": "method", "type": "nominal", "scale": {"domain": ["CCSD(T)", "sDFT-LDA/TF", "sDFT-PW91/PW91k", "sDFT-BP86/LLP91"], "range": ["#000000", "#ff1f35", "#1ccc1c", "#1f45ff"]}, "legend": null}
          }
        },
        {
          "data": {"values": [{"label": "(e)"}]},
          "mark": {"type": "text", "font": "Liberation Serif", "fontSize": 20, "color": "#000"},
          "encoding": {
            "text": {"field": "label"},
            "x": {"datum": 4.35, "type": "quantitative", "axis": {"orient": "bottom", "labels": false, "domain": false, "title": null, "tickSize": 2.5, "values": [3.25, 3.75, 4.25, 4.75, 5.25, 5.75]}},
            "y": {"datum": -13.7, "type": "quantitative", "axis": {"orient": "left", "labels": false, "domain": false, "title": null, "tickSize": 2.5, "values": [-20,-19,-18,-17,-16,-15,-14,-13,-12,-11,-10,-9,-8,-7,-6,-5,-4,-3,-2,-1,0,1]}}
          }
        }
      ]
    },
    {
      "width": 314, "height": 212,
      "data": {"name": "d"},
      "transform": [{"filter": "datum.panel === 'f'"}],
      "resolve": {"axis": {"x": "independent", "y": "independent"}},
      "layer": [
        {
          "data": {"values": [{}]},
          "mark": {"type": "rule", "color": "#d2d2d2", "strokeWidth": 1},
          "encoding": {"y": {"datum": 0, "type": "quantitative", "axis": null}}
        },
        {
          "mark": {"type": "line", "clip": true},
          "encoding": {
            "x": {"field": "x", "type": "quantitative", "scale": {"domain": [4.55, 7.38], "nice": false, "zero": false}, "axis": {"orient": "bottom", "values": [5, 5.5, 6, 6.5, 7], "format": ".1~f", "title": "Center of Mass Distance / [Å]"}},
            "y": {"field": "y", "type": "quantitative", "scale": {"domain": [-30, 5], "nice": false, "zero": false}, "axis": {"orient": "left", "values": [-30, -25, -20, -15, -10, -5, 0, 5], "format": "d", "title": "Eᵢₙₜ / [kJ/mol]", "titleX": -26}},
            "stroke": {"field": "method", "type": "nominal", "scale": {"domain": ["CCSD(T)", "KS-LDA", "KS-PW91", "KS-BP86", "sDFT-LDA/TF", "sDFT-PW91/PW91k", "sDFT-BP86/LLP91"], "range": ["#000000", "#e8141e", "#1fba1f", "#2352e6", "#ff6b7a", "#4ccd4c", "#6383ff"]},
              "legend": {"orient": "none", "legendX": 185, "legendY": 121, "title": null, "rowPadding": -1,
                "encode": {"symbols": {"update": {
                  "shape": {"signal": "datum.value === 'CCSD(T)' ? 'M-0.8,0H0.8M-0.94,-0.4L-0.62,-0.4L-0.38,-0.16L-0.38,0.16L-0.62,0.4L-0.94,0.4L-1.18,0.16L-1.18,-0.16ZM0.62,-0.4L0.94,-0.4L1.18,-0.16L1.18,0.16L0.94,0.4L0.62,0.4L0.38,0.16L0.38,-0.16Z' : datum.value === 'sDFT-LDA/TF' ? 'M-0.8,0H0.8M-1.13,-0.35h0.7v0.7h-0.7ZM0.43,-0.35h0.7v0.7h-0.7Z' : datum.value === 'sDFT-PW91/PW91k' ? 'M-0.8,0H0.8M-0.98,-0.4h0.36v0.22h0.22v0.36h-0.22v0.22h-0.36v-0.22h-0.22v-0.36h0.22ZM0.62,-0.4h0.36v0.22h0.22v0.36h-0.22v0.22h-0.36v-0.22h-0.22v-0.36h0.22Z' : datum.value === 'sDFT-BP86/LLP91' ? 'M-0.8,0H0.8M-0.78,-0.42L-0.38,0.28H-1.18ZM0.78,-0.42L1.18,0.28H0.38Z' : 'M-0.9,0H0.9'"},
                  "fill": {"signal": "datum.value === 'CCSD(T)' ? '#000000' : datum.value === 'sDFT-LDA/TF' ? '#ff1f35' : datum.value === 'sDFT-PW91/PW91k' ? '#1ccc1c' : datum.value === 'sDFT-BP86/LLP91' ? '#1f45ff' : 'transparent'"},
                  "strokeDash": {"signal": "datum.value === 'KS-PW91' ? [2,3] : datum.value === 'KS-BP86' ? [7,4] : [1,0]"},
                  "strokeWidth": {"signal": "datum.value === 'CCSD(T)' ? 2 : 1.5"}
                }}}}},
            "strokeDash": {"field": "method", "type": "nominal", "scale": {"domain": ["CCSD(T)", "KS-LDA", "KS-PW91", "KS-BP86", "sDFT-LDA/TF", "sDFT-PW91/PW91k", "sDFT-BP86/LLP91"], "range": [[1, 0], [1, 0], [2, 3], [7, 4], [1, 0], [1, 0], [1, 0]]}, "legend": null},
            "strokeWidth": {"field": "method", "type": "nominal", "scale": {"type": "ordinal", "domain": ["CCSD(T)", "KS-LDA", "KS-PW91", "KS-BP86", "sDFT-LDA/TF", "sDFT-PW91/PW91k", "sDFT-BP86/LLP91"], "range": [2, 1.5, 2, 1.8, 1.3, 1.3, 1.3]}, "legend": null}
          }
        },
        {
          "transform": [{"filter": {"field": "method", "oneOf": ["CCSD(T)", "sDFT-LDA/TF", "sDFT-PW91/PW91k", "sDFT-BP86/LLP91"]}}],
          "mark": {"type": "point", "filled": true, "opacity": 1, "size": 70, "strokeWidth": 0, "clip": true},
          "encoding": {
            "x": {"field": "x", "type": "quantitative", "axis": null},
            "y": {"field": "y", "type": "quantitative", "axis": null},
            "shape": {"field": "method", "type": "nominal", "scale": {"domain": ["CCSD(T)", "sDFT-LDA/TF", "sDFT-PW91/PW91k", "sDFT-BP86/LLP91"], "range": ["circle", "square", "M-0.45,-1h0.9v0.55h0.55v0.9h-0.55v0.55h-0.9v-0.55h-0.55v-0.9h0.55Z", "triangle-up"]}, "legend": null},
            "fill": {"field": "method", "type": "nominal", "scale": {"domain": ["CCSD(T)", "sDFT-LDA/TF", "sDFT-PW91/PW91k", "sDFT-BP86/LLP91"], "range": ["#000000", "#ff1f35", "#1ccc1c", "#1f45ff"]}, "legend": null}
          }
        },
        {
          "data": {"values": [{"label": "(f)"}]},
          "mark": {"type": "text", "font": "Liberation Serif", "fontSize": 20, "color": "#000"},
          "encoding": {
            "text": {"field": "label"},
            "x": {"datum": 5.9, "type": "quantitative", "axis": {"orient": "bottom", "labels": false, "domain": false, "title": null, "tickSize": 2.5, "values": [4.75, 5.25, 5.75, 6.25, 6.75, 7.25]}},
            "y": {"datum": -21.2, "type": "quantitative", "axis": {"orient": "left", "labels": false, "domain": false, "title": null, "tickSize": 2.5, "values": [-30,-29,-28,-27,-26,-25,-24,-23,-22,-21,-20,-19,-18,-17,-16,-15,-14,-13,-12,-11,-10,-9,-8,-7,-6,-5,-4,-3,-2,-1,0,1,2,3,4,5]}}
          }
        }
      ]
    }
  ]
}
